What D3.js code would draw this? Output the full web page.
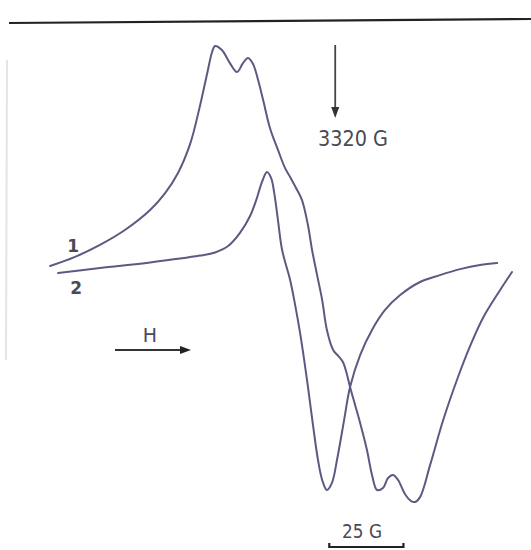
<!DOCTYPE html>
<html><head><meta charset="utf-8">
<script src="https://cdn.jsdelivr.net/npm/d3@7"></script>
<style>html,body{margin:0;padding:0;background:#fff;}svg{display:block;}</style>
</head><body>
<script>
// Field (G) and EPR derivative signal (arb. units) for spectrum 1 and 2
const field1 = [3223.9,3232.3,3240.7,3249.1,3257.6,3262.6,3267.0,3271.1,3274.4,3276.8,3278.5,3279.5,3281.8,3284.5,3286.9,3288.9,3290.6,3292.3,3294.0,3295.7,3298.0,3300.7,3303.1,3304.8,3306.8,3308.8,3310.8,3312.2,3313.9,3315.6,3317.2,3319.3,3321.0,3322.6,3324.0,3325.0,3326.7,3328.4,3330.7,3332.4,3334.1,3336.1,3337.8,3339.5,3341.2,3343.5,3345.6,3346.9,3348.6,3352.0,3356.4,3361.4,3365.5,3369.8,3375.6,3379.6];
const signal1 = [0.009,0.050,0.104,0.171,0.261,0.336,0.428,0.559,0.730,0.874,0.973,1.000,0.982,0.923,0.883,0.923,0.946,0.919,0.847,0.757,0.631,0.532,0.450,0.410,0.360,0.306,0.194,0.081,-0.032,-0.144,-0.279,-0.369,-0.396,-0.423,-0.482,-0.536,-0.617,-0.698,-0.820,-0.932,-1.000,-0.991,-0.946,-0.932,-0.955,-1.018,-1.050,-1.054,-1.032,-0.887,-0.685,-0.491,-0.351,-0.225,-0.099,-0.018];
const field2 = [3226.6,3240.7,3257.6,3274.4,3279.5,3283.9,3287.9,3291.3,3293.6,3295.3,3297.0,3298.4,3299.4,3300.7,3302.1,3304.8,3306.5,3308.1,3310.5,3312.5,3314.2,3315.6,3317.2,3318.9,3320.6,3323.0,3325.0,3328.4,3332.4,3336.8,3341.9,3348.6,3355.3,3362.1,3368.8,3374.6];
const signal2 = [-0.023,0.000,0.025,0.056,0.070,0.099,0.158,0.234,0.315,0.387,0.432,0.405,0.342,0.216,0.081,-0.054,-0.167,-0.288,-0.505,-0.707,-0.865,-0.955,-1.000,-0.968,-0.865,-0.685,-0.536,-0.392,-0.279,-0.189,-0.122,-0.063,-0.032,-0.005,0.014,0.023];
const seriesLabels = ["1","2"];
const markerField = 3320;          // G
const markerLabel = "3320 G";
const scaleBarStart = 3318, scaleBarLength = 25;
const scaleBarLabel = "25 G";
const fieldLabel = "H";

const W = 531, H = 550;
const svg = d3.select("body").append("svg").attr("width", W).attr("height", H);
const x = d3.scaleLinear().domain([3207, 3386]).range([0, 531]);
const y = d3.scaleLinear().domain([1, -1]).range([46, 490]);

const ink = "#5a5a82", txt = "#4a4a55";

// frame line on top and faint scan edge on left
svg.append("line").attr("x1", 9).attr("y1", 23).attr("x2", 531).attr("y2", 19)
  .attr("stroke", "#222").attr("stroke-width", 2.2);
svg.append("line").attr("x1", 7).attr("y1", 60).attr("x2", 6).attr("y2", 360)
  .attr("stroke", "#e4e4e8").attr("stroke-width", 2);

const line = d3.line().x(d => x(d[0])).y(d => y(d[1])).curve(d3.curveCatmullRom.alpha(0.5));
[[field1, signal1], [field2, signal2]].forEach(([f, s]) => {
  svg.append("path").datum(f.map((v, i) => [v, s[i]]))
    .attr("d", line).attr("fill", "none").attr("stroke", ink)
    .attr("stroke-width", 2).attr("stroke-linecap", "round").attr("stroke-linejoin", "round");
});

// series labels
svg.append("text").attr("x", x(field1[0]) + 23).attr("y", y(signal1[0]) - 14)
  .attr("font-family", "DejaVu Sans").attr("font-size", 17).attr("font-weight", "bold").attr("fill", txt)
  .attr("text-anchor", "middle").text(seriesLabels[0]);
svg.append("text").attr("x", x(field2[0]) + 18).attr("y", y(signal2[0]) + 21)
  .attr("font-family", "DejaVu Sans").attr("font-size", 17).attr("font-weight", "bold").attr("fill", txt)
  .attr("text-anchor", "middle").text(seriesLabels[1]);

// 3320 G marker arrow
const mx = x(markerField);
svg.append("line").attr("x1", mx).attr("y1", 45).attr("x2", mx).attr("y2", 110)
  .attr("stroke", "#444").attr("stroke-width", 1.8);
svg.append("path").attr("d", `M${mx-4},107 L${mx+4},107 L${mx},118 Z`).attr("fill", "#333");
svg.append("text").attr("x", 318).attr("y", 146)
  .attr("font-family", "DejaVu Sans").attr("font-size", 22).attr("fill", txt)
  .attr("textLength", 70).attr("lengthAdjust", "spacingAndGlyphs").text(markerLabel);

// H arrow
svg.append("line").attr("x1", 115).attr("y1", 350).attr("x2", 182).attr("y2", 350)
  .attr("stroke", "#333").attr("stroke-width", 2);
svg.append("path").attr("d", "M180,346 L191,350 L180,354 Z").attr("fill", "#222");
svg.append("text").attr("x", 150).attr("y", 342)
  .attr("font-family", "DejaVu Sans").attr("font-size", 19).attr("fill", txt)
  .attr("text-anchor", "middle").text(fieldLabel);

// 25 G scale bar
const sx1 = x(scaleBarStart), sx2 = x(scaleBarStart + scaleBarLength);
svg.append("path").attr("d", `M${sx1},543 L${sx1},547 L${sx2},547 L${sx2},543`)
  .attr("fill", "none").attr("stroke", "#222").attr("stroke-width", 2.2);
svg.append("text").attr("x", 342).attr("y", 538)
  .attr("font-family", "DejaVu Sans").attr("font-size", 20).attr("fill", txt)
  .attr("textLength", 40).attr("lengthAdjust", "spacingAndGlyphs").text(scaleBarLabel);
</script>
</body></html>
